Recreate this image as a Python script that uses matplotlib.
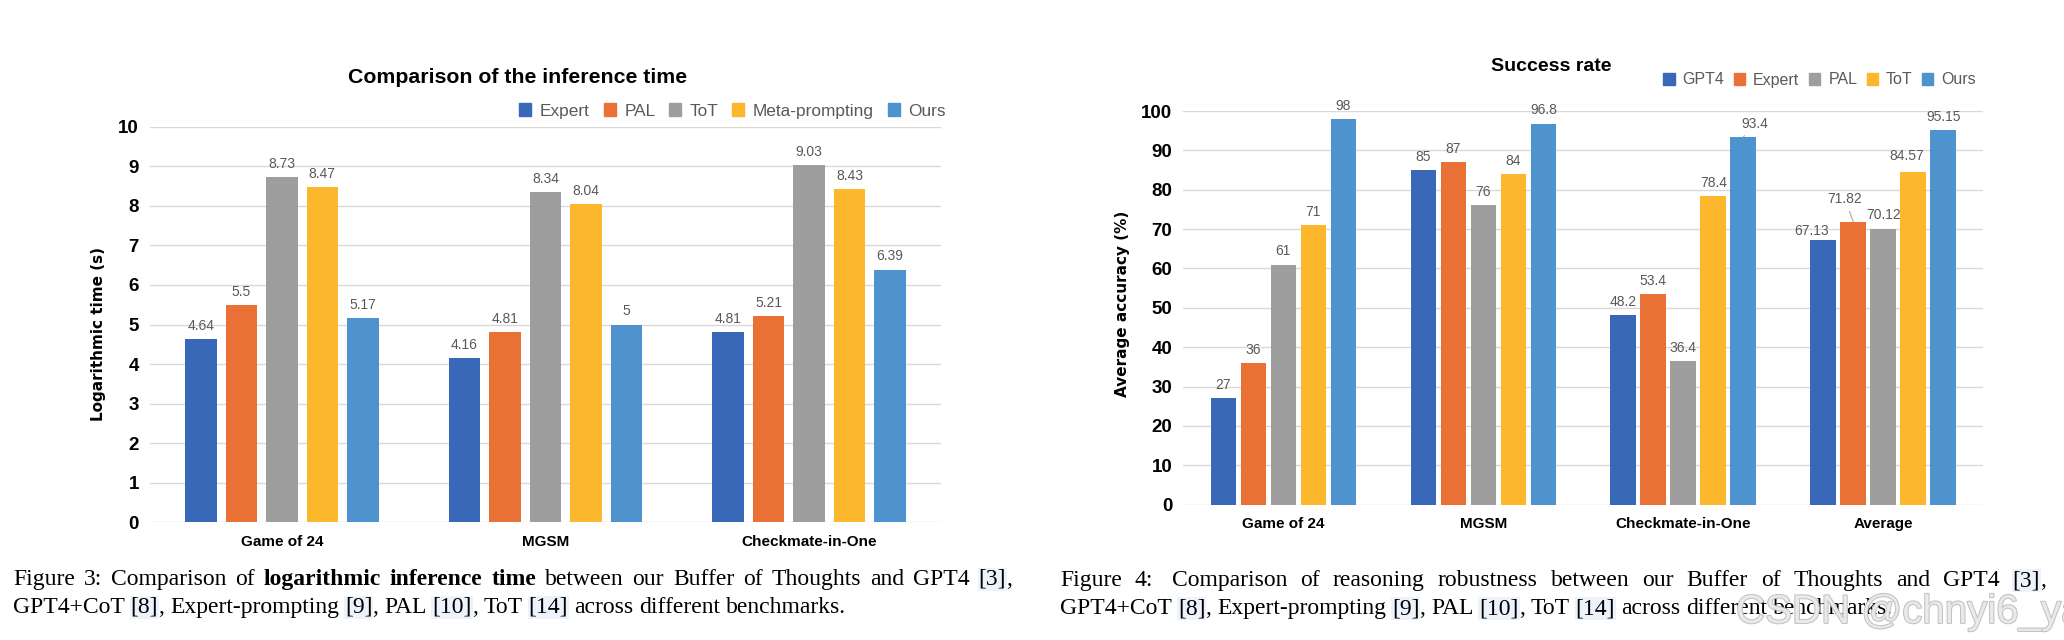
import re
import matplotlib
matplotlib.use("Agg")
import matplotlib.pyplot as plt
import matplotlib.patches as mpatches
import matplotlib.patheffects as pe
import numpy as np

# ---------------- data ----------------
cats_time = ["Game of 24", "MGSM", "Checkmate-in-One"]
series_time = ["Expert", "PAL", "ToT", "Meta-prompting", "Ours"]
time_expert = [4.64, 4.16, 4.81]
time_pal = [5.5, 4.81, 5.21]
time_tot = [8.73, 8.34, 9.03]
time_meta = [8.47, 8.04, 8.43]
time_ours = [5.17, 5.0, 6.39]

cats_acc = ["Game of 24", "MGSM", "Checkmate-in-One", "Average"]
series_acc = ["GPT4", "Expert", "PAL", "ToT", "Ours"]
acc_gpt4 = [27, 85, 48.2, 67.13]
acc_expert = [36, 87, 53.4, 71.82]
acc_pal = [61, 76, 36.4, 70.12]
acc_tot = [71, 84, 78.4, 84.57]
acc_ours = [98, 96.8, 93.4, 95.15]

time_yticks = list(range(0, 11))
acc_yticks = list(range(0, 101, 10))

# ---------------- style ----------------
colors = ["#3A68B8", "#EA7136", "#9E9E9E", "#FDB72D", "#4E92CE"]
W, H = 2064, 640
SANS = ["Liberation Sans", "DejaVu Sans"]
LABEL_FONT = ["DejaVu Sans"]
SERIF = ["Liberation Serif", "DejaVu Serif"]
VAL_COLOR = "#595959"
GRID = "#D9D9D9"

fig = plt.figure(figsize=(W / 100, H / 100), dpi=100)
fig.patch.set_facecolor("white")


def px_axes(x0, x1, ytop, ybot):
    return fig.add_axes([x0 / W, 1 - ybot / H, (x1 - x0) / W, (ybot - ytop) / H])


def style_axes(ax, ylim, yticks, cats):
    ax.set_ylim(*ylim)
    ax.set_yticks(yticks)
    ax.set_xlim(-0.5, len(cats) - 0.5)
    ax.set_xticks(range(len(cats)))
    ax.set_xticklabels(cats, fontsize=11, fontweight="bold", family=SANS)
    for lab in ax.get_yticklabels():
        lab.set_fontsize(13.5)
        lab.set_fontweight("bold")
        lab.set_family(SANS)
    for s in ax.spines.values():
        s.set_visible(False)
    ax.tick_params(axis="both", length=0)
    ax.tick_params(axis="x", pad=9)
    ax.tick_params(axis="y", pad=8)
    ax.yaxis.grid(True, color=GRID, linewidth=1.0)
    ax.set_axisbelow(True)


def draw_bars(ax, data, step, width, offsets=None, leaders=None):
    offsets = offsets or {}
    leaders = leaders or set()
    n = len(data)
    for i, vals in enumerate(data):
        x = np.arange(len(vals)) + (i - (n - 1) / 2) * step
        ax.bar(x, vals, width=width, color=colors[i], zorder=2)
        for j, (xx, v) in enumerate(zip(x, vals)):
            dx, dy = offsets.get((i, j), (0, 9.5))
            kw = dict(xy=(xx, v), xytext=(dx, dy), textcoords="offset points",
                      ha="center", va="center", fontsize=10, color=VAL_COLOR, family=SANS)
            if (i, j) in leaders:
                kw["arrowprops"] = dict(arrowstyle="-", color="#A6A6A6", lw=0.8,
                                        shrinkA=2, shrinkB=0)
            ax.annotate(f"{v:g}", **kw)


# ---------------- left chart ----------------
ax1 = px_axes(150, 941, 126.7, 522.3)
style_axes(ax1, (0, 10), time_yticks, cats_time)
draw_bars(ax1, [time_expert, time_pal, time_tot, time_meta, time_ours], 0.1536, 0.12)

fig.text(518 / W, 1 - 83 / H, "Comparison of the inference time", ha="center", va="baseline",
         fontsize=15.3, fontweight="bold", family=SANS)
fig.text(98 / W, 1 - 334 / H, "Logarithmic time (s)", rotation=90, ha="center", va="center",
         fontsize=11, fontweight="bold", family=LABEL_FONT)

h1 = [mpatches.Patch(color=c) for c in colors]
fig.legend(h1, series_time, loc="center right", bbox_to_anchor=(946 / W, 1 - 111 / H),
           ncol=5, frameon=False, handlelength=0.7, handleheight=0.8,
           handletextpad=0.5, columnspacing=0.8, borderpad=0, borderaxespad=0,
           labelcolor=VAL_COLOR, prop={"family": SANS, "size": 12.4})

# ---------------- right chart ----------------
ax2 = px_axes(1183.4, 1983.3, 111, 504.7)
style_axes(ax2, (0, 100), acc_yticks, cats_acc)
acc_offsets = {
    (4, 2): (8.5, 9.5),     # 93.4
    (1, 3): (-6, 16.5),     # 71.82
    (0, 3): (-8.5, 6.5),    # 67.13
    (3, 3): (-4.5, 11.3),   # 84.57
}
draw_bars(ax2, [acc_gpt4, acc_expert, acc_pal, acc_tot, acc_ours], 0.15, 0.1285,
          offsets=acc_offsets, leaders={(4, 2), (1, 3)})

fig.text(1551 / W, 1 - 71 / H, "Success rate", ha="center", va="baseline",
         fontsize=14, fontweight="bold", family=SANS)
fig.text(1122 / W, 1 - 304 / H, "Average accuracy (%)", rotation=90, ha="center", va="center",
         fontsize=11, fontweight="bold", family=LABEL_FONT)

fig.legend(h1, series_acc, loc="center right", bbox_to_anchor=(1976 / W, 1 - 80 / H),
           ncol=5, frameon=False, handlelength=0.7, handleheight=0.8,
           handletextpad=0.5, columnspacing=0.6, borderpad=0, borderaxespad=0,
           labelcolor=VAL_COLOR, prop={"family": SANS, "size": 11.5})

# ---------------- captions ----------------
renderer = fig.canvas.get_renderer()
CAP = 17


def seg_width(s, weight):
    t = fig.text(0, 0, s + "|", fontsize=CAP, fontweight=weight, family=SERIF)
    w1 = t.get_window_extent(renderer).width
    t.remove()
    t = fig.text(0, 0, "|", fontsize=CAP, fontweight=weight, family=SERIF)
    w2 = t.get_window_extent(renderer).width
    t.remove()
    return w1 - w2


def draw_line(x0, ybase, segments, x_end=None):
    tokens = []
    for text, weight, cite in segments:
        for part in re.split(r"( +)", text):
            if part:
                tokens.append((part, weight, cite))
    widths = [seg_width(t, w) for t, w, _ in tokens]
    n_space = sum(1 for t, _, _ in tokens if t.strip() == "")
    extra = 0.0
    if x_end is not None and n_space:
        extra = (x_end - x0 - sum(widths)) / n_space
    x = x0
    for (text, weight, cite), w in zip(tokens, widths):
        if text.strip() == "":
            x += w + extra
            continue
        t = fig.text(x / W, 1 - ybase / H, text, fontsize=CAP, fontweight=weight,
                     family=SERIF, ha="left", va="baseline")
        if cite:
            t.set_bbox(dict(facecolor="#EDF3FB", edgecolor="none", pad=0.6))
        x += w


N, B = "normal", "bold"
draw_line(13, 585, [("Figure 3: Comparison of ", N, False), ("logarithmic inference time", B, False),
                    (" between our Buffer of Thoughts and GPT4 ", N, False), ("[3]", N, True), (",", N, False)],
          x_end=1012)
draw_line(13, 613, [("GPT4+CoT ", N, False), ("[8]", N, True), (", Expert-prompting ", N, False),
                    ("[9]", N, True), (", PAL ", N, False), ("[10]", N, True), (", ToT ", N, False),
                    ("[14]", N, True), (" across different benchmarks.", N, False)])
draw_line(1060, 586, [("Figure 4:  Comparison of reasoning robustness between our Buffer of Thoughts and GPT4 ", N, False),
                      ("[3]", N, True), (",", N, False)], x_end=2046)
draw_line(1060, 614, [("GPT4+CoT ", N, False), ("[8]", N, True), (", Expert-prompting ", N, False),
                      ("[9]", N, True), (", PAL ", N, False), ("[10]", N, True), (", ToT ", N, False),
                      ("[14]", N, True), (" across different benchmarks.", N, False)])

# watermark
fig.text(1736 / W, 1 - 623 / H, "CSDN @chnyi6_ya", ha="left", va="baseline", fontsize=29,
         family=["Liberation Sans Narrow", "Liberation Sans"], color="#EBEBEB", alpha=0.9,
         path_effects=[pe.withStroke(linewidth=1.3, foreground="#B8B8B8")])

fig.savefig("out.png", dpi=100, facecolor="white")
